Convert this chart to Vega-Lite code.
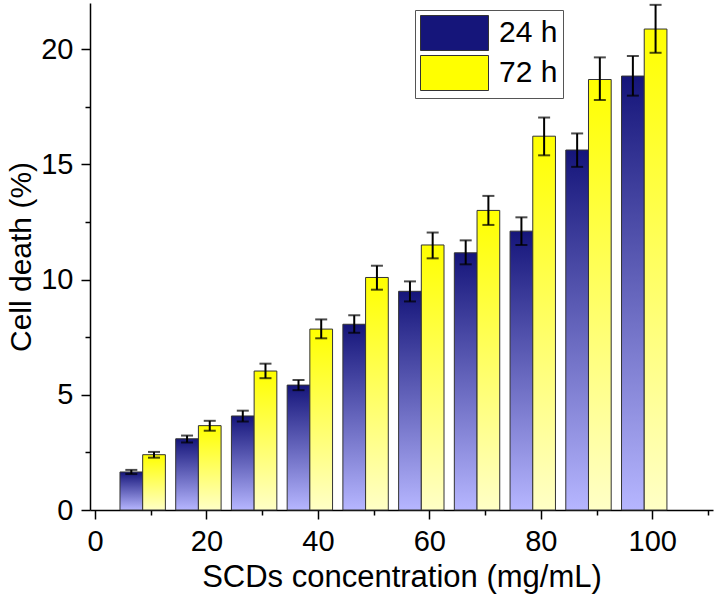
{
  "$schema": "https://vega.github.io/schema/vega-lite/v6.json",
  "width": 623,
  "height": 507,
  "autosize": "none",
  "padding": {"left": 90, "top": 3, "right": 5, "bottom": 88},
  "background": "white",
  "data": {
    "values": [
      {"conc": 10, "time": "24 h", "value": 1.65, "lo": 1.56, "hi": 1.74},
      {"conc": 20, "time": "24 h", "value": 3.09, "lo": 2.93, "hi": 3.23},
      {"conc": 30, "time": "24 h", "value": 4.08, "lo": 3.84, "hi": 4.31},
      {"conc": 40, "time": "24 h", "value": 5.42, "lo": 5.2, "hi": 5.64},
      {"conc": 50, "time": "24 h", "value": 8.06, "lo": 7.69, "hi": 8.45},
      {"conc": 60, "time": "24 h", "value": 9.49, "lo": 9.05, "hi": 9.92},
      {"conc": 70, "time": "24 h", "value": 11.16, "lo": 10.66, "hi": 11.7},
      {"conc": 80, "time": "24 h", "value": 12.1, "lo": 11.5, "hi": 12.7},
      {"conc": 90, "time": "24 h", "value": 15.62, "lo": 14.89, "hi": 16.34},
      {"conc": 100, "time": "24 h", "value": 18.83, "lo": 17.98, "hi": 19.7},
      {"conc": 10, "time": "72 h", "value": 2.4, "lo": 2.27, "hi": 2.52},
      {"conc": 20, "time": "72 h", "value": 3.66, "lo": 3.44, "hi": 3.87},
      {"conc": 30, "time": "72 h", "value": 6.03, "lo": 5.72, "hi": 6.35},
      {"conc": 40, "time": "72 h", "value": 7.85, "lo": 7.45, "hi": 8.27},
      {"conc": 50, "time": "72 h", "value": 10.09, "lo": 9.56, "hi": 10.6},
      {"conc": 60, "time": "72 h", "value": 11.5, "lo": 10.92, "hi": 12.04},
      {"conc": 70, "time": "72 h", "value": 13.0, "lo": 12.37, "hi": 13.63},
      {"conc": 80, "time": "72 h", "value": 16.22, "lo": 15.39, "hi": 17.03},
      {"conc": 90, "time": "72 h", "value": 18.68, "lo": 17.79, "hi": 19.64},
      {"conc": 100, "time": "72 h", "value": 20.87, "lo": 19.84, "hi": 21.92}
    ]
  },
  "encoding": {
    "x": {
      "field": "conc",
      "type": "quantitative",
      "scale": {"domain": [0, 110], "nice": false},
      "axis": {
        "title": "SCDs concentration (mg/mL)",
        "values": [0, 10, 20, 30, 40, 50, 60, 70, 80, 90, 100, 110],
        "labelExpr": "datum.value % 20 === 0 ? datum.label : ''",
        "tickSize": {"condition": {"test": "datum.value % 20 === 0", "value": 9}, "value": 5},
        "labelPadding": 8,
        "titlePadding": 6,
        "titleFontSize": 31,
        "grid": false
      }
    },
    "y": {
      "field": "value",
      "type": "quantitative",
      "scale": {"domain": [0, 22], "nice": false},
      "axis": {
        "title": "Cell death (%)",
        "values": [0, 2.5, 5, 7.5, 10, 12.5, 15, 17.5, 20],
        "labelExpr": "datum.value % 5 === 0 ? datum.label : ''",
        "tickSize": {"condition": {"test": "datum.value % 5 === 0", "value": 9}, "value": 5},
        "labelPadding": 8,
        "titlePadding": 4,
        "grid": false
      }
    }
  },
  "layer": [
    {
      "transform": [{"filter": "datum.time === '24 h'"}],
      "layer": [
        {
          "mark": {
            "type": "bar", "width": 22.7, "xOffset": -19.4, "stroke": "#333333", "strokeWidth": 1,
            "fill": {"gradient": "linear", "x1": 0, "y1": 0, "x2": 0, "y2": 1, "stops": [{"offset": 0, "color": "#15157a"}, {"offset": 1, "color": "#b6b6ff"}]}
          }
        },
        {
          "mark": {"type": "rule", "xOffset": -19.4, "color": "black", "strokeWidth": 2},
          "encoding": {"y": {"field": "lo", "type": "quantitative"}, "y2": {"field": "hi"}}
        },
        {
          "mark": {"type": "tick", "orient": "horizontal", "xOffset": -19.4, "color": "black", "size": 12, "thickness": 2},
          "encoding": {"y": {"field": "lo", "type": "quantitative"}}
        },
        {
          "mark": {"type": "tick", "orient": "horizontal", "xOffset": -19.4, "color": "black", "size": 12, "thickness": 2},
          "encoding": {"y": {"field": "hi", "type": "quantitative"}}
        }
      ]
    },
    {
      "transform": [{"filter": "datum.time === '72 h'"}],
      "layer": [
        {
          "mark": {
            "type": "bar", "width": 22.7, "xOffset": 3.3, "stroke": "#333333", "strokeWidth": 1,
            "fill": {"gradient": "linear", "x1": 0, "y1": 0, "x2": 0, "y2": 1, "stops": [{"offset": 0, "color": "#ffff00"}, {"offset": 1, "color": "#ffffc6"}]}
          }
        },
        {
          "mark": {"type": "rule", "xOffset": 3.3, "color": "black", "strokeWidth": 2},
          "encoding": {"y": {"field": "lo", "type": "quantitative"}, "y2": {"field": "hi"}}
        },
        {
          "mark": {"type": "tick", "orient": "horizontal", "xOffset": 3.3, "color": "black", "size": 12, "thickness": 2},
          "encoding": {"y": {"field": "lo", "type": "quantitative"}}
        },
        {
          "mark": {"type": "tick", "orient": "horizontal", "xOffset": 3.3, "color": "black", "size": 12, "thickness": 2},
          "encoding": {"y": {"field": "hi", "type": "quantitative"}}
        }
      ]
    },
    {
      "mark": {"type": "square", "opacity": 0, "size": 1},
      "encoding": {
        "fill": {
          "field": "time",
          "type": "nominal",
          "scale": {"domain": ["24 h", "72 h"], "range": ["#15157a", "#ffff00"]},
          "legend": {
            "title": null,
            "orient": "none",
            "legendX": 325,
            "legendY": 7,
            "symbolType": "M-1,-1H2.886V1H-1Z",
            "symbolSize": 1225,
            "symbolOpacity": 1,
            "symbolStrokeColor": "#333333",
            "symbolStrokeWidth": 1,
            "labelFontSize": 30,
            "labelFont": "Liberation Sans",
            "labelColor": "black",
            "labelOffset": 43,
            "rowPadding": 0,
            "padding": 5,
            "strokeColor": "#555555",
            "fillColor": "white",
            "encode": {
              "symbols": {
                "update": {
                  "fill": [
                    {"test": "datum.value === '24 h'", "value": {"gradient": "linear", "x1": 0, "y1": 0, "x2": 0, "y2": 1, "stops": [{"offset": 0, "color": "#15157a"}, {"offset": 1, "color": "#b6b6ff"}]}},
                    {"value": {"gradient": "linear", "x1": 0, "y1": 0, "x2": 0, "y2": 1, "stops": [{"offset": 0, "color": "#ffff00"}, {"offset": 1, "color": "#ffffc6"}]}}
                  ],
                  "opacity": {"value": 1},
                  "fillOpacity": {"value": 1},
                  "stroke": {"value": "#333333"},
                  "strokeWidth": {"value": 1}
                }
              }
            }
          }
        }
      }
    }
  ],
  "config": {
    "view": {"stroke": null},
    "font": "Liberation Sans",
    "axis": {
      "domainColor": "black",
      "domainWidth": 1.5,
      "tickColor": "black",
      "tickWidth": 1.5,
      "labelFont": "Liberation Sans",
      "labelFontSize": 29,
      "labelColor": "black",
      "titleFont": "Liberation Sans",
      "titleFontSize": 30,
      "titleFontWeight": "normal",
      "titleColor": "black"
    }
  }
}
